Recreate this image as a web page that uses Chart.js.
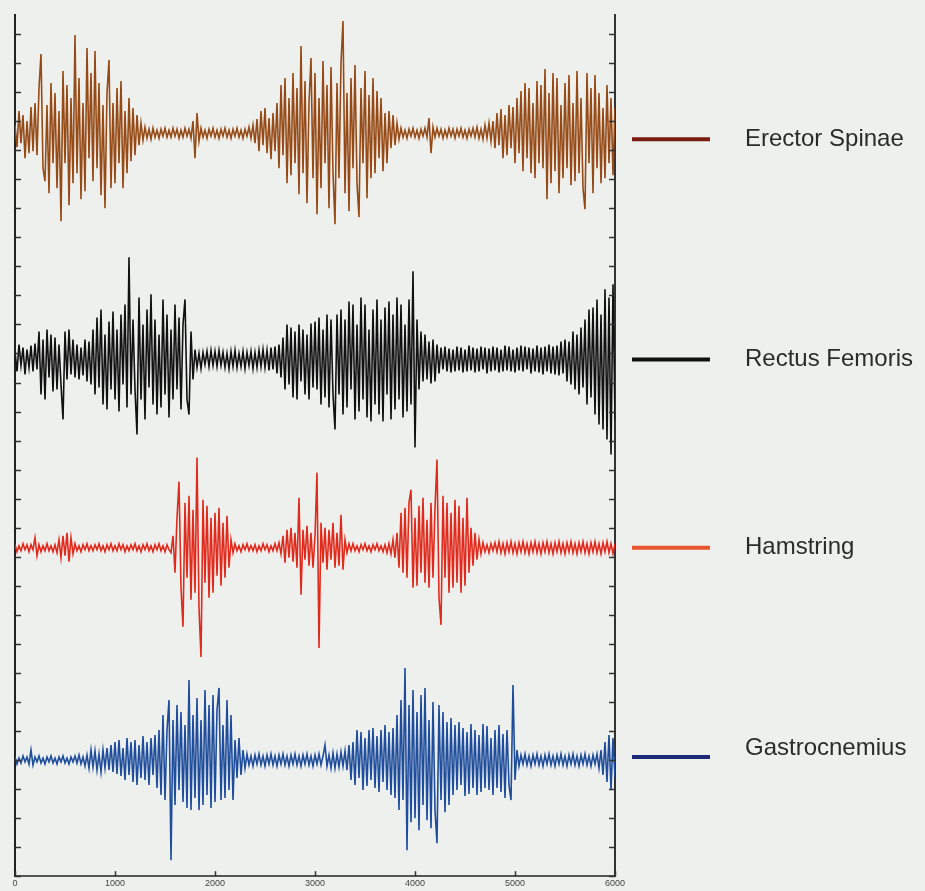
<!DOCTYPE html>
<html lang="en">
<head>
    <meta charset="UTF-8">
    <title>EMG - four muscles</title>
    <script src="https://cdn.jsdelivr.net/npm/chart.js"></script>
    <style>
        html, body { margin: 0; padding: 0; background: #eef0ee; }
        #wrap { position: relative; width: 925px; height: 891px; }
    </style>
</head>
<body>
    <div id="wrap"><canvas id="emgChart"></canvas></div>

    <script>
        // Samples every 20 ms, 0 .. 6000 (301 per muscle), amplitude in µV around each trace's own zero
        const sampleStep = 20;
        const xTicks = [0, 1000, 2000, 3000, 4000, 5000, 6000];
        const muscles = ['Erector Spinae', 'Rectus Femoris', 'Hamstring', 'Gastrocnemius'];

        const erectorSpinae = [
            8,-14,22,-10,18,-25,12,-20,26,-18,
            30,-22,45,79,-35,-48,28,-60,50,-30,
            40,-55,22,-88,62,-30,48,-72,35,-50,
            98,-40,55,-66,30,-58,85,-25,60,-48,
            82,-35,50,-62,28,-75,40,73,-55,30,
            -50,45,-30,52,-55,22,-40,35,-28,25,
            -22,18,-12,10,-7,6,-5,4,-6,5,
            -4,3,-5,4,-3,5,-4,3,-4,5,
            -3,4,-5,3,-4,5,-3,4,-5,12,
            -25,20,-8,5,-4,3,-5,4,-3,5,
            -4,3,-5,4,-3,5,-4,3,-5,4,
            -3,5,-4,3,-5,4,-3,6,-5,8,
            -10,14,-18,22,-12,25,-20,15,-26,20,
            -18,30,-35,48,-22,55,-50,35,-42,60,
            -30,45,-61,87,-40,52,-70,30,75,-45,
            60,-81,35,-55,72,-30,48,-75,66,-40,
            -91,50,-45,70,112,-60,40,-78,55,-35,
            68,-50,-84,45,-30,62,-65,38,-45,55,
            -40,42,-25,35,-38,20,-30,22,-15,18,
            -12,10,-6,5,-4,3,-5,4,-3,5,
            -4,3,-5,4,-3,5,-4,15,-20,6,
            -4,5,-3,4,-5,3,-4,5,-3,4,
            -5,4,-3,5,-4,3,-5,4,-3,5,
            -4,6,-5,4,-6,8,-5,10,-8,12,
            -15,20,-12,24,-25,18,-22,28,-15,26,
            -30,35,-20,42,-38,50,-25,45,-40,30,
            -45,52,-30,48,-35,64,-66,40,-50,60,
            -38,55,-60,28,-45,50,-35,58,-52,30,
            -48,62,-40,35,-55,-76,60,-30,45,-60,
            58,-35,40,-50,25,-45,48,-30,35,-42,
            25
        ];
        const rectusFemoris = [
            8,-12,15,-6,12,-15,10,-8,14,-12,
            16,-10,28,-35,20,-40,30,-18,25,-32,
            22,-30,15,-25,-60,28,-20,30,-15,20,
            -18,15,-20,12,-16,20,-22,18,-25,30,
            -35,42,-28,50,-45,25,-50,38,-30,48,
            -40,30,-52,45,-25,55,-48,102,-35,40,
            -30,-75,62,-40,35,-60,50,-28,65,-45,
            40,-55,25,-48,60,-35,45,-58,30,-40,
            55,-30,42,-50,35,60,-40,-55,28,-20,
            10,-8,6,-9,7,-5,8,-7,9,-6,
            8,-7,9,-6,7,-8,6,-9,8,-7,
            9,-8,6,-7,8,-9,7,-6,8,-9,
            7,-8,9,-7,10,-8,9,-11,12,-10,
            13,-14,15,-18,22,-30,35,-25,32,-38,
            28,-40,35,-22,30,-35,25,-40,36,-28,
            38,-30,42,-45,30,-38,45,-48,40,-35,
            -70,45,-35,50,-55,40,-48,58,-30,55,
            -60,35,-52,62,-40,55,-58,30,-62,50,
            -45,60,-55,40,-62,52,-35,58,-60,45,
            -50,62,-40,55,-58,35,-52,60,-45,88,
            -88,40,-30,28,-22,25,-20,18,-24,20,
            -22,15,-14,12,-10,13,-12,11,-13,10,
            -12,13,-11,12,-13,10,-12,14,-11,12,
            -13,11,-12,13,-10,12,-14,11,-12,13,
            -11,12,-13,10,-12,14,-11,13,-12,10,
            -13,12,-11,14,-12,13,-10,12,-14,11,
            -12,14,-13,12,-15,13,-12,15,-14,13,
            -15,14,-16,18,-14,20,-22,18,-25,28,
            -30,25,-35,32,-28,40,-45,50,-38,52,
            -55,60,-65,45,-70,70,-80,62,-95,75,
            -60
        ];
        const hamstring = [
            3,-4,2,-3,4,-2,3,-4,3,-2,
            10,-8,3,-4,2,-3,4,-3,2,-4,
            3,-5,8,-10,12,-8,15,-14,10,-6,
            4,-3,2,-4,3,-2,4,-3,2,-3,
            3,-2,4,-3,2,-4,3,-2,4,-3,
            2,-3,4,-2,3,-4,2,-3,3,-2,
            4,-3,2,-4,3,-2,4,-3,2,-4,
            3,-2,4,-3,2,-4,3,-2,-5,12,
            -25,30,66,-40,-79,45,-30,52,-52,38,
            -45,90,-60,-109,48,-35,42,-50,30,-45,
            35,-28,40,-38,25,-30,32,-20,8,-5,
            4,-3,2,-4,3,-2,4,-3,2,-3,
            3,-4,2,-3,4,-2,3,-4,2,-3,
            4,-3,5,-6,12,-15,18,-10,20,-14,
            15,-20,50,-47,18,-12,22,-18,15,-20,
            12,75,-100,25,-15,20,-22,18,-12,25,
            -20,15,-18,33,-22,8,-5,4,-3,4,
            -3,2,-4,3,-2,4,-3,2,-4,3,
            -2,4,-3,2,-4,3,-5,4,-6,8,
            -10,15,-20,35,-25,40,-30,45,58,-40,
            30,-38,42,-25,50,-35,28,-40,45,-30,
            40,88,-50,-77,52,-30,45,-45,35,-40,
            48,-35,42,-45,30,-38,50,-25,20,-18,
            15,-12,8,-6,5,-4,3,-5,4,-3,
            5,-4,6,-5,4,-6,5,-4,6,-5,
            4,-6,5,-4,6,-5,4,-6,5,-4,
            6,-5,4,-6,5,-4,6,-5,4,-6,
            5,-4,6,-5,4,-6,5,-4,6,-5,
            4,-6,5,-4,6,-5,4,-6,5,-4,
            6,-5,4,-6,5,-4,6,-5,4,-6,
            4
        ];
        const gastrocnemius = [
            3,-4,2,-3,4,-2,3,-4,10,-5,
            3,-2,4,-3,2,-4,3,-2,4,-3,
            2,-4,3,-2,4,-3,2,-4,3,-2,
            4,-3,5,-4,3,-6,5,-8,10,-7,
            9,-10,6,-12,10,-8,12,-10,15,-12,
            18,-14,20,-16,12,-20,22,-15,18,-22,
            20,-25,15,-18,24,-20,18,-25,22,-15,
            25,-28,30,-35,45,-40,30,60,-100,40,
            -45,55,-30,48,-42,35,-48,80,-50,45,
            -38,62,-50,40,-45,70,-35,55,-48,65,
            -42,50,72,-40,35,-38,60,-30,45,-40,
            20,-18,22,-15,10,-8,6,-5,4,-6,
            5,-4,6,-5,4,-6,5,-4,6,-5,
            4,-6,5,-4,6,-5,4,-6,5,-4,
            6,-5,4,-6,5,-4,6,-5,4,-6,
            5,-4,6,-5,4,15,-6,5,-8,7,
            -8,6,-7,8,-6,9,-10,15,-20,18,
            -25,30,-18,28,-30,22,-26,30,-20,32,
            -28,24,-32,30,-22,35,-30,28,-35,32,
            -38,45,-50,60,-40,92,-90,55,-62,70,
            -58,48,-70,65,-45,72,-60,40,-68,58,
            -50,-83,55,-40,48,-52,38,-45,42,-35,
            35,-30,38,-25,32,-36,28,-34,36,-28,
            30,-35,25,-32,36,-28,34,-30,22,-35,
            30,-28,35,-32,26,-38,30,-25,-40,75,
            -20,10,-6,5,-4,6,-5,4,-6,5,
            -4,6,-5,4,-6,5,-4,6,-5,4,
            -6,5,-4,6,-5,4,-6,5,-4,6,
            -5,4,-6,5,-4,6,-5,4,-6,5,
            -4,6,-8,10,-15,18,-22,25,-30,22,
            -18
        ];

        // where each trace sits on the shared vertical axis (0..860)
        const traceOffset = [742, 516, 328, 116];
        const traceColor = ['#964a15', '#111111', '#e02a1c', '#1e4d9b'];
        const legendColor = ['#7b1c12', '#111111', '#e8552f', '#1d2a78'];

        function buildDataset(values, idx) {
            return {
                label: muscles[idx],
                data: values.map((v, i) => ({ x: i * sampleStep, y: traceOffset[idx] + v })),
                borderColor: traceColor[idx],
                borderWidth: 1.6,
                pointRadius: 0,
                tension: 0,
                fill: false
            };
        }

        // inward tick marks + the line legend on the right
        const emgDecor = {
            id: 'emgDecor',
            afterDraw(chart) {
                const ctx = chart.ctx;
                const area = chart.chartArea;
                const xs = chart.scales.x;
                const ys = chart.scales.y;
                ctx.save();
                ctx.strokeStyle = '#333';
                ctx.lineWidth = 1.5;
                ys.ticks.forEach(t => {
                    const py = Math.round(ys.getPixelForValue(t.value)) + 0.5;
                    if (py < area.top + 8) return;
                    ctx.beginPath();
                    ctx.moveTo(area.left, py); ctx.lineTo(area.left + 6, py);
                    ctx.moveTo(area.right - 6, py); ctx.lineTo(area.right, py);
                    ctx.stroke();
                });
                xs.ticks.forEach(t => {
                    const px = Math.round(xs.getPixelForValue(t.value)) + 0.5;
                    ctx.beginPath();
                    ctx.moveTo(px, area.bottom); ctx.lineTo(px, area.bottom - 5);
                    ctx.stroke();
                });

                // legend swatches sit level with their trace
                const lineNudge = [6, 0, 0, -3];
                const textNudge = [6, 0, 0, -12];
                ctx.font = '24px "Liberation Sans", Arial, sans-serif';
                ctx.textBaseline = 'middle';
                ctx.fillStyle = '#2b2b2b';
                muscles.forEach((name, i) => {
                    const py = ys.getPixelForValue(traceOffset[i]);
                    ctx.strokeStyle = legendColor[i];
                    ctx.lineWidth = 4;
                    ctx.beginPath();
                    ctx.moveTo(632, py + lineNudge[i]); ctx.lineTo(710, py + lineNudge[i]);
                    ctx.stroke();
                    ctx.fillText(name, 745, py + textNudge[i]);
                });
                ctx.restore();
            }
        };

        function initializeChart() {
            const ctx = document.getElementById('emgChart').getContext('2d');
            new Chart(ctx, {
                type: 'line',
                data: {
                    datasets: [
                        buildDataset(erectorSpinae, 0),
                        buildDataset(rectusFemoris, 1),
                        buildDataset(hamstring, 2),
                        buildDataset(gastrocnemius, 3)
                    ]
                },
                options: {
                    responsive: true,
                    maintainAspectRatio: false,
                    animation: false,
                    layout: { padding: { left: 15, right: 310, top: 15, bottom: 0 } },
                    plugins: { legend: { display: false }, tooltip: { enabled: false } },
                    scales: {
                        x: {
                            type: 'linear',
                            min: 0,
                            max: 6000,
                            afterBuildTicks: axis => { axis.ticks = xTicks.map(v => ({ value: v })); },
                            ticks: {
                                font: { size: 9, family: 'Liberation Sans' },
                                color: '#444',
                                padding: 2,
                                maxRotation: 0,
                                callback: v => String(v)
                            },
                            grid: { display: false, drawTicks: false },
                            border: { display: true, color: '#555', width: 2 }
                        },
                        y: {
                            min: 0,
                            max: 860,
                            ticks: { display: false, stepSize: 29 },
                            grid: { display: false, drawTicks: false },
                            border: { display: true, color: '#222', width: 2 }
                        },
                        y2: {
                            position: 'right',
                            min: 0,
                            max: 860,
                            ticks: { display: false },
                            grid: { display: false, drawTicks: false },
                            border: { display: true, color: '#333', width: 2 }
                        }
                    }
                },
                plugins: [emgDecor]
            });
        }

        document.addEventListener('DOMContentLoaded', initializeChart);
    </script>
</body>
</html>
